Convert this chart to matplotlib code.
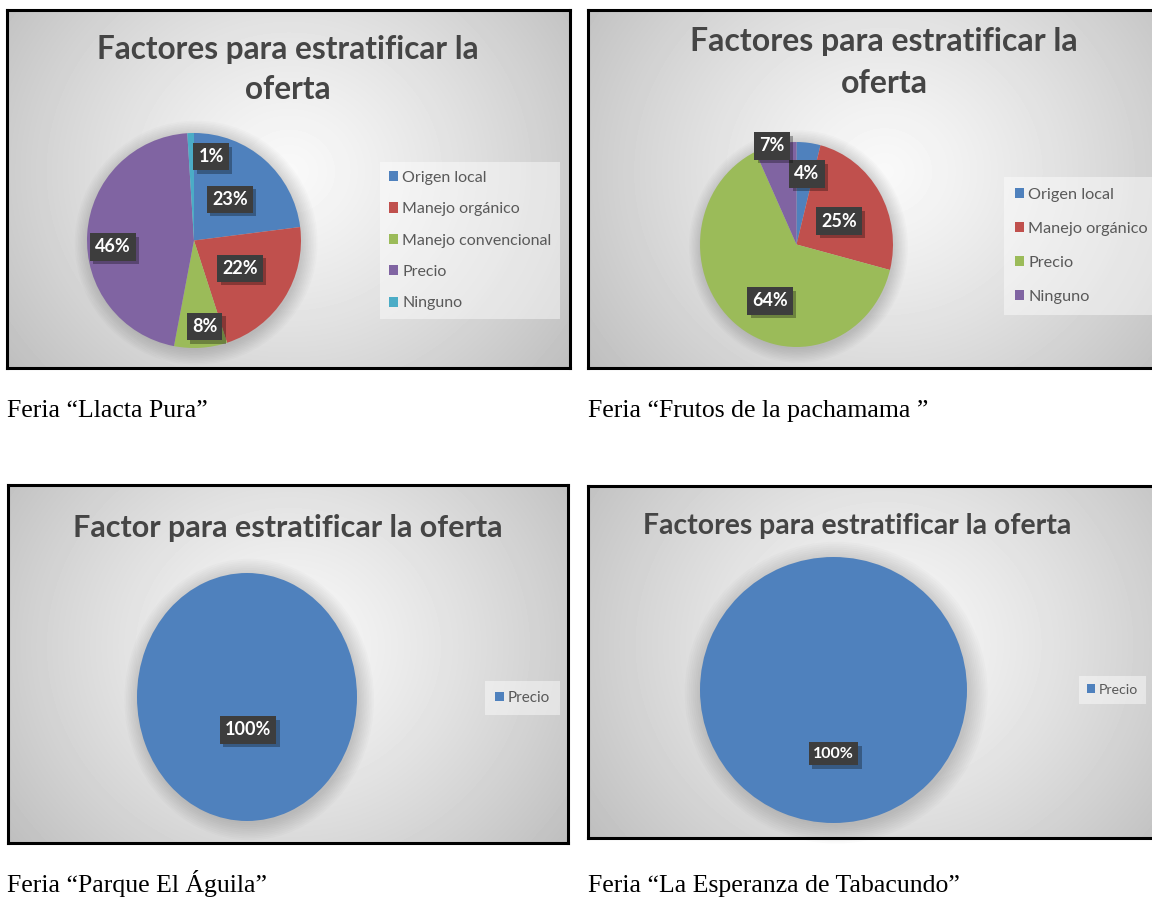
import numpy as np
import matplotlib
matplotlib.use("Agg")
import matplotlib.pyplot as plt
from matplotlib.patches import Patch, Ellipse
import matplotlib.patheffects as pe

W, H, DPI = 1152, 900, 100

# ---------------- data ----------------
titles1 = ["Factores para estratificar la", "oferta"]
titles2 = ["Factores para estratificar la", "oferta"]
titles3 = ["Factor para estratificar la oferta"]
titles4 = ["Factores para estratificar la oferta"]

caption1 = "Feria “Llacta Pura”"
caption2 = "Feria “Frutos de la pachamama ”"
caption3 = "Feria “Parque El Águila”"
caption4 = "Feria “La Esperanza de Tabacundo”"

cats1 = ["Origen local", "Manejo orgánico", "Manejo convencional", "Precio", "Ninguno"]
vals1 = [23, 22, 8, 46, 1]
cats2 = ["Origen local", "Manejo orgánico", "Precio", "Ninguno"]
vals2 = [4, 25, 64, 7]
cats3 = ["Precio"]
vals3 = [100]
cats4 = ["Precio"]
vals4 = [100]

# ---------------- style ----------------
BLUE, RED, GREEN, PURPLE, CYAN = "#4f81bd", "#c0504d", "#9bbb59", "#8064a2", "#4bacc6"
colors1 = [BLUE, RED, GREEN, PURPLE, CYAN]
colors2 = [BLUE, RED, GREEN, PURPLE]
colors3 = [BLUE]
colors4 = [BLUE]

SANS = ["Lato", "DejaVu Sans"]
SERIF = ["Liberation Serif", "DejaVu Serif"]
TITLE_COLOR = "#454545"
LEG_COLOR = "#595959"

fig = plt.figure(figsize=(W / DPI, H / DPI), dpi=DPI)
fig.patch.set_facecolor("white")


def frect(x0, y0, x1, y1):
    return [x0 / W, 1 - y1 / H, (x1 - x0) / W, (y1 - y0) / H]


def fx(x):
    return x / W


def fy(y):
    return 1 - y / H


def background(box):
    x0, y0, x1, y1 = box
    ax = fig.add_axes(frect(*box), zorder=0)
    w, h = int(x1 - x0), int(y1 - y0)
    yy, xx = np.mgrid[0:h, 0:w]
    d = np.hypot(xx - 0.5 * w, (yy - 0.45 * h) * 1.1)
    d = d / d.max()
    v = 0.975 - 0.23 * d ** 1.25
    ax.imshow(v, cmap="gray", vmin=0, vmax=1, extent=(0, 1, 0, 1),
              aspect="auto", interpolation="bilinear")
    ax.set_xlim(0, 1)
    ax.set_ylim(0, 1)
    ax.set_xticks([])
    ax.set_yticks([])
    for s in ax.spines.values():
        s.set_color("black")
        s.set_linewidth(2.2)
    return ax


def pie(box, vals, colors, label_xy, label_fs):
    ax = fig.add_axes(frect(*box), zorder=2)
    ax.patch.set_visible(False)
    # soft halo behind the pie
    for k in range(10):
        ax.add_patch(Ellipse((0.02, -0.02), 2 + 0.03 * k, 2 + 0.03 * k,
                             facecolor="black", alpha=0.014, edgecolor="none",
                             zorder=0, clip_on=False))
    wedges, _ = ax.pie(vals, colors=colors, startangle=90, counterclock=False,
                       radius=1, wedgeprops=dict(linewidth=0))
    for wdg in wedges:
        wdg.set_zorder(1)
    ax.set_xlim(-1, 1)
    ax.set_ylim(-1, 1)
    ax.set_aspect("auto")
    ax.axis("off")
    for v, (lx, ly) in zip(vals, label_xy):
        t = ax.text(lx, ly, f"{v}%", ha="center", va="center", fontsize=label_fs,
                    fontweight="bold", family=SANS, color="white",
                    bbox=dict(boxstyle="square,pad=0.28", fc="#3d3d3d", ec="none"),
                    zorder=4)
        t.get_bbox_patch().set_path_effects(
            [pe.SimplePatchShadow(offset=(2.5, -2.5), shadow_rgbFace="black", alpha=0.3),
             pe.Normal()])
    return ax


def legend(ax_bg, cats, colors, x, y, fs, spacing, hsize, bpad=0.55):
    handles = [Patch(facecolor=c, edgecolor="none") for c in colors]
    leg = ax_bg.legend(handles, cats, loc="upper left",
                       bbox_to_anchor=(fx(x), fy(y)), bbox_transform=fig.transFigure,
                       frameon=True, fancybox=False, facecolor="white", framealpha=0.45,
                       edgecolor="none", prop=dict(family=SANS, size=fs),
                       labelcolor=LEG_COLOR, handlelength=hsize, handleheight=hsize,
                       handletextpad=0.25, labelspacing=spacing, borderpad=bpad,
                       borderaxespad=0)
    leg.get_frame().set_linewidth(0)
    return leg


# ---------------- panel 1 ----------------
bg1 = background((7, 10, 570, 368))
fig.text(fx(288), fy(59), titles1[0], ha="center", va="baseline", fontsize=22.7,
         fontweight="bold", family=SANS, color=TITLE_COLOR)
fig.text(fx(288), fy(99), titles1[1], ha="center", va="baseline", fontsize=22.7,
         fontweight="bold", family=SANS, color=TITLE_COLOR)
pie((87, 133, 301, 348), vals1, colors1,
    [(0.336, 0.383), (0.43, -0.26), (0.10, -0.80), (-0.76, -0.06), (0.16, 0.78)], 13)
legend(bg1, cats1, colors1, 380, 162, 11.5, 1.09, 0.6)
fig.text(fx(7), fy(417), caption1, ha="left", va="baseline", fontsize=18.5,
         family=SERIF, color="black")

# ---------------- panel 2 ----------------
bg2 = background((588, 10, 1180, 368))
fig.text(fx(884), fy(51), titles2[0], ha="center", va="baseline", fontsize=23,
         fontweight="bold", family=SANS, color=TITLE_COLOR)
fig.text(fx(884), fy(93), titles2[1], ha="center", va="baseline", fontsize=23,
         fontweight="bold", family=SANS, color=TITLE_COLOR)
pie((700, 142, 893, 347), vals2, colors2,
    [(0.109, 0.688), (0.44, 0.229), (-0.275, -0.551), (-0.254, 0.961)], 13)
legend(bg2, cats2, colors2, 1004, 177, 11.7, 1.24, 0.6, 0.65)
fig.text(fx(588), fy(417), caption2, ha="left", va="baseline", fontsize=18.5,
         family=SERIF, color="black")

# ---------------- panel 3 ----------------
bg3 = background((8, 485, 568, 843))
fig.text(fx(288), fy(537), titles3[0], ha="center", va="baseline", fontsize=22,
         fontweight="bold", family=SANS, color=TITLE_COLOR)
pie((137, 573, 357, 821), vals3, colors3, [(0.01, -0.266)], 13)
legend(bg3, cats3, colors3, 485, 681, 11, 0.6, 0.6, 0.65)
fig.text(fx(7), fy(892), caption3, ha="left", va="baseline", fontsize=18.5,
         family=SERIF, color="black")

# ---------------- panel 4 ----------------
bg4 = background((588, 486, 1180, 838))
fig.text(fx(857), fy(534), titles4[0], ha="center", va="baseline", fontsize=20.4,
         fontweight="bold", family=SANS, color=TITLE_COLOR)
pie((700, 557, 967, 823), vals4, colors4, [(0.0, -0.48)], 11.5)
legend(bg4, cats4, colors4, 1079, 676, 10.2, 0.6, 0.6)
fig.text(fx(588), fy(892), caption4, ha="left", va="baseline", fontsize=18.5,
         family=SERIF, color="black")

fig.savefig("out.png", dpi=DPI)
